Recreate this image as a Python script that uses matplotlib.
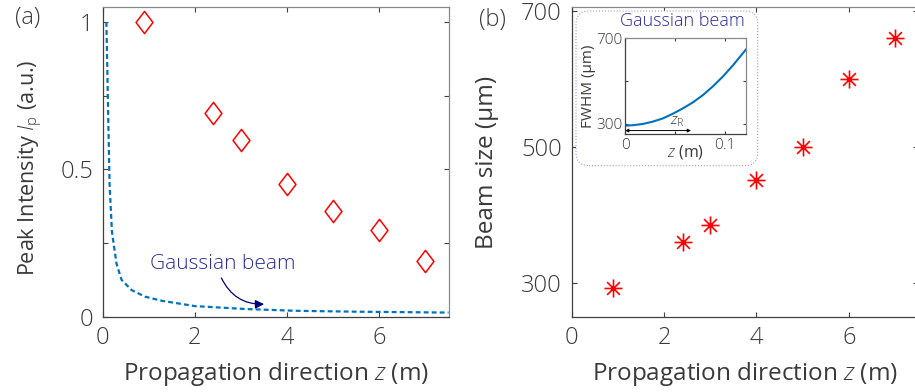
import numpy as np
import matplotlib
matplotlib.use("Agg")
import matplotlib.pyplot as plt
from matplotlib.path import Path
from matplotlib.patches import FancyBboxPatch

plt.rcParams['font.family'] = ['Open Sans', 'DejaVu Sans']
plt.rcParams['font.weight'] = 'light'
plt.rcParams['mathtext.fontset'] = 'custom'
plt.rcParams['mathtext.rm'] = 'Open Sans:light'
plt.rcParams['mathtext.it'] = 'Open Sans:italic:light'

TXT = '#3a3a3a'
RED = '#ff0000'
BLUE = '#0072bd'
NAVY = '#2b2b9a'

# (a) peak intensity
z_meas = [0.9, 2.4, 3.0, 4.0, 5.0, 6.0, 7.0]
ip_meas = [1.0, 0.69, 0.60, 0.451, 0.36, 0.294, 0.19]
z_gauss = [0.08, 0.10, 0.12, 0.15, 0.20, 0.30, 0.41, 0.63, 0.92, 1.28, 2.0, 3.1, 4.2, 5.5, 7.5]
ip_gauss = [1.0, 0.85, 0.68, 0.45, 0.29, 0.18, 0.125, 0.09, 0.068, 0.054, 0.036, 0.026, 0.02, 0.017, 0.014]

# (b) beam size
size_meas = [292, 360, 385, 451, 500, 600, 660]
z_inset = [0.0, 0.008, 0.018, 0.028, 0.038, 0.048, 0.058, 0.068, 0.078, 0.088, 0.098, 0.108, 0.121]
fwhm_inset = [292, 294, 300, 311, 326, 348, 373, 401, 435, 476, 522, 574, 648]
z_rayleigh = 0.066

fig = plt.figure(figsize=(9.15, 3.92), dpi=100)

diamond = Path([(0, 1), (0.76, 0), (0, -1), (-0.76, 0), (0, 1)],
               [Path.MOVETO, Path.LINETO, Path.LINETO, Path.LINETO, Path.CLOSEPOLY])
r = np.sqrt(0.5)
star = Path([(-1, 0), (1, 0), (0, -1), (0, 1), (-r, -r), (r, r), (-r, r), (r, -r)],
            [Path.MOVETO, Path.LINETO] * 4)


def style_axes(ax, fs=17, length=3.5, pad=7):
    ax.tick_params(direction='in', top=True, right=True, length=length, width=0.8,
                   labelsize=fs, labelcolor=TXT, colors='#404040', pad=pad)
    for s in ['left', 'bottom']:
        ax.spines[s].set_color('#404040')
    for s in ['top', 'right']:
        ax.spines[s].set_color('#8a8a8a')
    for s in ax.spines.values():
        s.set_linewidth(0.9)


# panel (a)
ax1 = fig.add_axes([0.1122, 0.1921, 0.3780, 0.7893])
ax1.plot(z_gauss, ip_gauss, color=BLUE, lw=1.6, ls=(0, (2.2, 1.4)))
ax1.plot(z_meas, ip_meas, ls='none', marker=diamond, ms=16, mfc='none', mec=RED, mew=1.1)
ax1.set_xlim(0, 7.5)
ax1.set_ylim(0, 1.05)
ax1.set_xticks([0, 2, 4, 6])
ax1.set_yticks([0, 0.25, 0.5, 0.75, 1])
ax1.set_yticklabels(['0', '', '0.5', '', '1'])
style_axes(ax1)
ax1.set_xlabel('Propagation direction $z$ (m)', fontsize=17.5, color=TXT, labelpad=7)
ax1.set_ylabel('Peak Intensity $I_{\\mathrm{p}}$ (a.u.)', fontsize=15.5, color=TXT)
ax1.yaxis.set_label_coords(-0.168, 0.48)
ax1.text(1.03, 0.18, 'Gaussian beam', fontsize=15, color=NAVY, va='center', ha='left')
ax1.annotate('', xy=(3.56, 0.043), xytext=(2.55, 0.14),
             arrowprops=dict(arrowstyle='-|>', color='#000080', lw=0.9,
                             mutation_scale=13, connectionstyle='arc3,rad=0.35'))
fig.text(0.016, 0.955, '(a)', fontsize=17, color=TXT, va='center')

# panel (b)
ax2 = fig.add_axes([0.6248, 0.1921, 0.3787, 0.7893])
ax2.plot(z_meas, size_meas, ls='none', marker=star, ms=13, mfc='none', mec=RED, mew=1.2)
ax2.set_xlim(0, 7.5)
ax2.set_ylim(250, 705)
ax2.set_xticks([0, 2, 4, 6])
ax2.set_yticks([300, 500, 700])
style_axes(ax2)
ax2.set_xlabel('Propagation direction $z$ (m)', fontsize=17.5, color=TXT, labelpad=7)
ax2.set_ylabel('Beam size (μm)', fontsize=17.5, color=TXT, labelpad=16)
fig.text(0.5235, 0.948, '(b)', fontsize=17, color=TXT, va='center')

# inset frame
box = FancyBboxPatch((5.76, 2.263), 1.817, 1.547, boxstyle='round,pad=0,rounding_size=0.13',
                     transform=fig.dpi_scale_trans, fc='white', ec='#9a9ad8', lw=0.8, ls=':',
                     zorder=1)
fig.add_artist(box)
fig.text(0.7454, 0.947, 'Gaussian beam', fontsize=13, color=NAVY, ha='center', va='center', zorder=3)

# inset
axi = fig.add_axes([0.6831, 0.6582, 0.1322, 0.2441], zorder=2)
axi.plot(z_inset, fwhm_inset, color=BLUE, lw=1.5)
axi.set_xlim(0, 0.121)
axi.set_ylim(253, 700)
axi.set_xticks([0, 0.05, 0.1])
axi.set_xticklabels(['0', '', '0.1'])
axi.set_yticks([300, 500, 700])
axi.set_yticklabels(['300', '', '700'])
style_axes(axi, fs=11, length=2.5, pad=2)
axi.tick_params(axis='x', pad=3)
axi.set_xlabel('$z$ (m)', fontsize=11.5, color=TXT, labelpad=-7)
axi.set_ylabel('FWHM (μm)', fontsize=11, color=TXT, labelpad=0)
axi.annotate('', xy=(z_rayleigh, 269), xytext=(0, 269),
             arrowprops=dict(arrowstyle='<|-|>', color='black', lw=0.7, mutation_scale=5,
                             shrinkA=0, shrinkB=0))
axi.text(0.052, 313, '$z_{\\mathrm{R}}$', fontsize=11, color=TXT, ha='center', va='center')

fig.savefig('out.png', dpi=100)
